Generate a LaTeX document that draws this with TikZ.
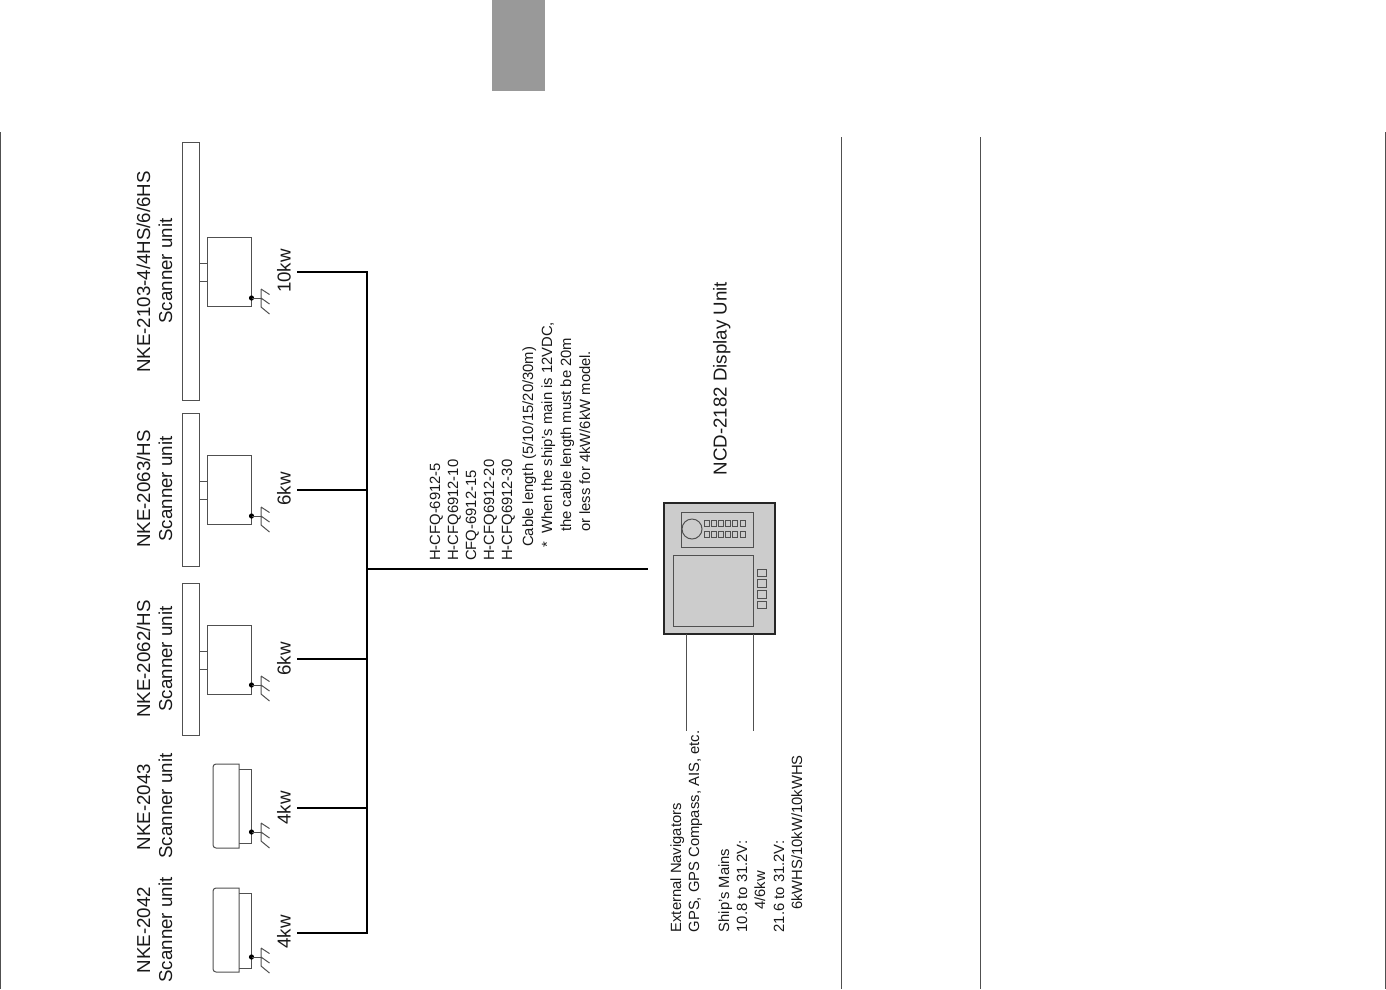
\documentclass[tikz,border=0pt]{standalone}
\usepackage{fontspec}
\setmainfont{Liberation Sans}
\definecolor{linegray}{HTML}{505050}
\definecolor{panelgray}{HTML}{CCCCCC}
\definecolor{tabgray}{HTML}{999999}
\tikzset{
  bigtxt/.style={rotate=90,anchor=base,inner sep=0pt,font=\fontsize{18.7}{20}\selectfont,text=black!90},
  smalltxt/.style={rotate=90,anchor=base west,inner sep=0pt,font=\fontsize{14.8}{16}\selectfont,text=black!90},
  thin box/.style={draw=linegray,line width=1pt},
  bus/.style={draw=black,line width=2pt},
  outer/.style={draw=linegray,line width=1pt},
  key/.style={draw=linegray,line width=0.9pt,fill=panelgray},
}
\newcommand{\groundat}[2]{% name, dot y
  \fill[black] (251.5,#2) circle (2.6);
  \coordinate (#1g) at (261,#2);
  \draw[thin box] (251.5,#2) -- (#1g);
  \draw[thin box] (261,#2-9) -- (261,#2+9)
    (261,#2-9) -- (269.5,#2-3.5)
    (261,#2) -- (269.5,#2+6)
    (261,#2+9) -- (269.5,#2+16);
}
\newcommand{\barscanner}[6]{% name, bar top, bar bottom, box top, box bottom, dot y
  \draw[thin box] (182,#2) rectangle (199.7,#3);
  \draw[thin box] (207.5,#4) rectangle (251.5,#5);
  \draw[thin box] (199.7,#4+26) -- (207.5,#4+26) (199.7,#4+44) -- (207.5,#4+44);
  \groundat{#1}{#6}
}
\newcommand{\domescanner}[6]{% name, dome top, dome bottom, box top, box bottom, dot y
  \draw[thin box] (239,#2) -- (216,#2) to[out=180,in=90] (213,#2+3) -- (213,#3-3) to[out=-90,in=180] (216,#3) -- (239,#3) -- cycle;
  \draw[thin box] (239,#4) -- (251.5,#4) -- (251.5,#5) -- (239,#5);
  \groundat{#1}{#6}
}
\begin{document}
\begin{tikzpicture}[x=1pt,y=-1pt]
\useasboundingbox (0,0) rectangle (1386,989);
\fill[tabgray] (492,0) rectangle (545,91);
\coordinate (l1) at (0.7,132); \coordinate (l2) at (0.7,989);
\coordinate (r1) at (1385.3,132); \coordinate (r2) at (1385.3,989);
\coordinate (m1) at (841,137); \coordinate (m2) at (841,989);
\coordinate (n1) at (980,137); \coordinate (n2) at (980,989);
\draw[outer] (l1)--(l2) (r1)--(r2) (m1)--(m2) (n1)--(n2);

% scanners
\barscanner{a}{142}{400}{237}{306}{298}
\barscanner{b}{413}{566}{455}{524}{516}
\barscanner{c}{583}{735}{625}{694}{685}
\domescanner{d}{764}{848}{769}{843}{832}
\domescanner{e}{888}{972}{893}{968}{957}

% scanner labels
\node[bigtxt] (a1) at (150,272) {NKE-2103-4/4HS/6/6HS};
\node[bigtxt] (a2) at (172,271) {Scanner unit};
\node[bigtxt] (b1) at (150,489) {NKE-2063/HS};
\node[bigtxt] (b2) at (172,489) {Scanner unit};
\node[bigtxt] (c1) at (150,659) {NKE-2062/HS};
\node[bigtxt] (c2) at (172,659) {Scanner unit};
\node[bigtxt] (d1) at (150,807) {NKE-2043};
\node[bigtxt] (d2) at (172,806) {Scanner unit};
\node[bigtxt] (e1) at (150,930) {NKE-2042};
\node[bigtxt] (e2) at (172,930) {Scanner unit};

% power labels
\node[bigtxt] (k1) at (290.5,271) {10kw};
\node[bigtxt] (k2) at (290.5,489) {6kw};
\node[bigtxt] (k3) at (290.5,659) {6kw};
\node[bigtxt] (k4) at (290.5,808) {4kw};
\node[bigtxt] (k5) at (290.5,932) {4kw};

% bus
\coordinate (s1) at (297,271.5); \coordinate (s2) at (297,489.5);
\coordinate (s3) at (297,659); \coordinate (s4) at (297,808);
\coordinate (s5) at (297,933);
\coordinate (j1) at (367,271.5); \coordinate (j2) at (367,489.5);
\coordinate (j3) at (367,659); \coordinate (j4) at (367,808);
\coordinate (j5) at (367,933); \coordinate (jm) at (367,569);
\coordinate (dl) at (648,569);
\draw[bus] (s1) -- (j1) -- (j5) -- (s5);
\draw[bus] (s2) -- (j2) (s3) -- (j3) (s4) -- (j4) (jm) -- (dl);

% cable text
\node[smalltxt] (t1) at (440,561) {H-CFQ-6912-5};
\node[smalltxt] (t2) at (458,561) {H-CFQ6912-10};
\node[smalltxt] (t3) at (476,561) {CFQ-6912-15};
\node[smalltxt] (t4) at (494,561) {H-CFQ6912-20};
\node[smalltxt] (t5) at (512,561) {H-CFQ6912-30};
\node[smalltxt] (t6) at (533,547) {Cable length (5/10/15/20/30m)};
\node[smalltxt] (t7) at (552,548) {*\ \ When the ship's main is 12VDC,};
\node[smalltxt] (t8) at (571,532) {the cable length must be 20m};
\node[smalltxt] (t9) at (590,532) {or less for 4kW/6kW model.};

% display
\node[bigtxt] (dt) at (726.5,378.5) {NCD-2182 Display Unit};
\draw[draw=black!85,fill=panelgray,line width=2pt] (664,502.5) rectangle (775,634);
\draw[thin box] (681,512) rectangle (753,547);
\draw[draw=linegray,line width=0.8pt] (673,555) rectangle (753,626);
\draw[thin box] (692,529) circle (10);
\foreach \i in {0,...,5}{
  \draw[key] (704+\i*7.2,520.5) rectangle ++(5,6.3);
  \draw[key] (704+\i*7.2,531) rectangle ++(5,6.5);
}
\draw[key] (757,569) rectangle (766,576.5);
\draw[key] (757,579.5) rectangle (766,587);
\draw[key] (757,590.5) rectangle (766,598);
\draw[key] (757,601) rectangle (766,608.5);
\coordinate (p1) at (686,634); \coordinate (p2) at (686,731);
\coordinate (p3) at (753,634); \coordinate (p4) at (753,731);
\draw[outer] (p1)--(p2) (p3)--(p4);

\node[smalltxt] (x1) at (681,932.5) {External Navigators};
\node[smalltxt] (x2) at (699,932.5) {GPS, GPS Compass, AIS, etc.};
\node[smalltxt] (x3) at (729,932.5) {Ship's Mains};
\node[smalltxt] (x4) at (747,932.5) {10.8 to 31.2V:};
\node[smalltxt] (x5) at (765,910) {4/6kw};
\node[smalltxt] (x6) at (784,932.5) {21.6 to 31.2V:};
\node[smalltxt] (x7) at (802,910) {6kWHS/10kW/10kWHS};
\end{tikzpicture}
\end{document}
